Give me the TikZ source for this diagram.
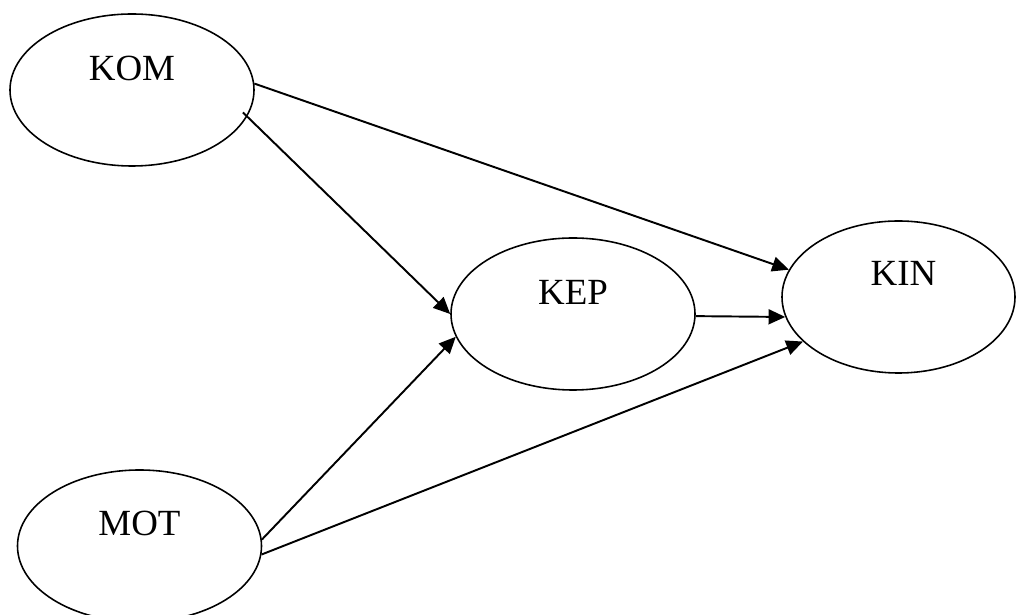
\documentclass[tikz,border=0pt]{standalone}
\usepackage{fontspec}
\setmainfont{Liberation Serif}
\usetikzlibrary{arrows.meta,shapes.geometric}
\tikzset{
	var/.style={draw, ellipse, line width=0.9pt, minimum width=4.88cm, minimum height=3.04cm},
	arr/.style={line width=1.1pt, -{Triangle[length=9.5pt,width=8.5pt]}}
}

\begin{document}
\begin{tikzpicture}
					\useasboundingbox (0,0) rectangle (20.32,12.3);
					\coordinate (K) at (2.64,10.50);
					\coordinate (E) at (11.46,6.02);
					\coordinate (I) at (17.97,6.36);
					\coordinate (M) at (2.79,1.38);
					
					\node[var] (kom) at (K) {};
					\node[var] (kep) at (E) {};
					\node[var, minimum width=4.66cm] (kin) at (I) {};
					\node[var] (mot) at (M) {};
					
					\node (komtxt) at (K) [yshift=0.44cm] {\fontsize{21}{25}\selectfont KOM};
					\node (keptxt) at (E) [yshift=0.44cm] {\fontsize{21}{25}\selectfont KEP};
					\node (kintxt) at (I) [yshift=0.48cm, xshift=0.1cm] {\fontsize{21}{25}\selectfont KIN};
					\node (mottxt) at (M) [yshift=0.46cm] {\fontsize{21}{25}\selectfont MOT};
					
					\draw[arr] (kom.3) -- (kin.166);
					\draw[arr, shorten <=-0.12cm] (kom.-13) -- (kep.180);
					\draw[arr] (kep.-1.5) -- (kin.190);
					\draw[arr] (mot.3) -- (kep.191);
					\draw[arr] (mot.-4) -- (kin.205);
				\end{tikzpicture}
\end{document}
